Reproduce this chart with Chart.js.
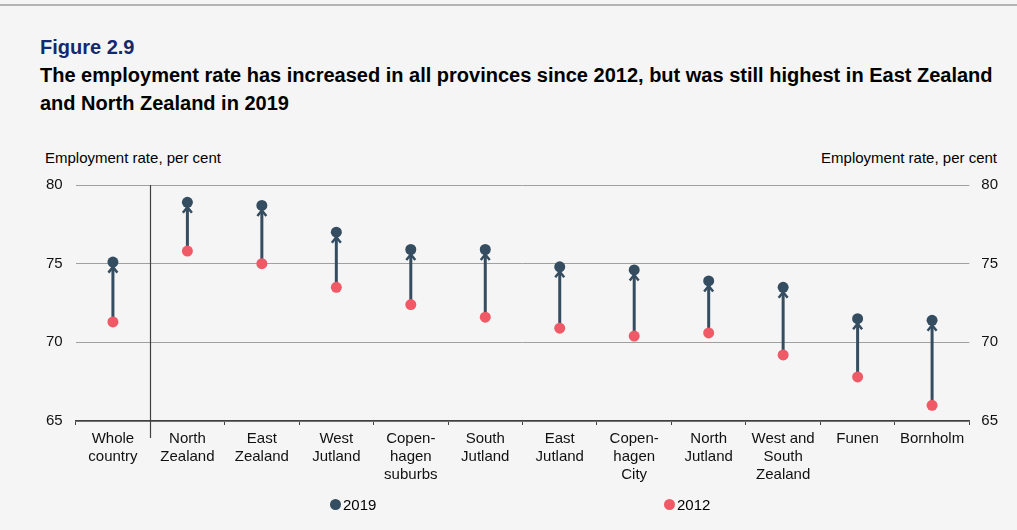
<!DOCTYPE html>
<html>
<head>
<meta charset="utf-8">
<script src="https://cdn.jsdelivr.net/npm/chart.js@4/dist/chart.umd.min.js"></script>
<style>
  html, body { margin: 0; padding: 0; background: #f5f5f5; }
  body { width: 1017px; height: 530px; position: relative; overflow: hidden;
         font-family: "Liberation Sans", Arial, sans-serif; color: #000; }
  #topline { position: absolute; left: 0; top: 4px; width: 1017px; height: 2px; background: #b4b4b4; }
  #fig { position: absolute; left: 40px; top: 36px; font-size: 20px; font-weight: bold; color: #14286e; }
  #title { position: absolute; left: 40px; top: 61px; width: 977px; font-size: 20px; font-weight: bold; line-height: 28px; white-space: nowrap; }
  .axtitle { position: absolute; top: 149px; font-size: 15px; }
  #axl { left: 45px; }
  #axr { right: 20px; }
  canvas { position: absolute; left: 0; top: 0; }
  .leg { position: absolute; top: 496px; font-size: 15px; display: flex; align-items: center; }
  .leg i { display: inline-block; width: 11px; height: 11px; border-radius: 50%; margin-right: 2px; }
</style>
</head>
<body>
<div id="topline"></div>
<div id="fig">Figure 2.9</div>
<div id="title">The employment rate has increased in all provinces since 2012, but was still highest in East Zealand<br>and North Zealand in 2019</div>
<div class="axtitle" id="axl">Employment rate, per cent</div>
<div class="axtitle" id="axr">Employment rate, per cent</div>
<canvas id="c" width="1017" height="530"></canvas>
<div class="leg" style="left:330px"><i style="background:#354d60"></i>2019</div>
<div class="leg" style="left:664px"><i style="background:#ef5a66"></i>2012</div>
<script>
// Provinces, with the national total first
const regions = [
  ["Whole", "country"], ["North", "Zealand"], ["East", "Zealand"], ["West", "Jutland"],
  ["Copen-", "hagen", "suburbs"], ["South", "Jutland"], ["East", "Jutland"],
  ["Copen-", "hagen", "City"], ["North", "Jutland"], ["West and", "South", "Zealand"],
  ["Funen"], ["Bornholm"]
];
// Employment rate, per cent
const rate2019 = [75.1, 78.9, 78.7, 77.0, 75.9, 75.9, 74.8, 74.6, 73.9, 73.5, 71.5, 71.4];
const rate2012 = [71.3, 75.8, 75.0, 73.5, 72.4, 71.6, 70.9, 70.4, 70.6, 69.2, 67.8, 66.0];
const yTicks = [65, 70, 75, 80];

const DARK = '#354d60';
const RED = '#ef5a66';

// Arrow from the 2012 value up to the 2019 value for each region
const arrows = {
  id: 'arrows',
  beforeDatasetsDraw(chart) {
    const { ctx, scales: { x, y } } = chart;
    ctx.save();
    ctx.strokeStyle = DARK;
    ctx.lineCap = 'butt';
    regions.forEach((_, i) => {
      const px = x.getPixelForValue(i);
      const from = y.getPixelForValue(rate2012[i]);
      const to = y.getPixelForValue(rate2019[i]);
      const tip = to + 5;
      ctx.lineWidth = 3;
      ctx.beginPath();
      ctx.moveTo(px, from);
      ctx.lineTo(px, tip);
      ctx.stroke();
      ctx.lineWidth = 2.5;
      ctx.beginPath();
      ctx.moveTo(px - 4.5, tip + 5.5);
      ctx.lineTo(px, tip);
      ctx.lineTo(px + 4.5, tip + 5.5);
      ctx.stroke();
    });
    ctx.restore();
  }
};

// Divider between the national total and the provinces
const divider = {
  id: 'divider',
  afterDraw(chart) {
    const { ctx, chartArea, scales: { x } } = chart;
    const px = Math.round((x.getPixelForValue(0) + x.getPixelForValue(1)) / 2) + 0.5;
    ctx.save();
    ctx.strokeStyle = '#404040';
    ctx.lineWidth = 1.2;
    ctx.beginPath();
    ctx.moveTo(px, chartArea.top);
    ctx.lineTo(px, chartArea.bottom + 17);
    ctx.stroke();
    ctx.restore();
  }
};

const tickFont = { family: '"Liberation Sans", Arial, sans-serif', size: 15 };
const yAxis = (pos, pad) => ({
  type: 'linear',
  position: pos,
  min: 65, max: 80,
  afterBuildTicks(s) { s.ticks = yTicks.map(v => ({ value: v })); },
  ticks: { font: tickFont, color: '#111', padding: pad },
  grid: { drawTicks: false, drawOnChartArea: pos === 'left', color: '#a0a0a0', lineWidth: 1 },
  border: { display: false }
});

new Chart(document.getElementById('c'), {
  type: 'line',
  data: {
    labels: regions,
    datasets: [
      { label: '2019', data: rate2019, showLine: false, pointRadius: 5.5, pointHoverRadius: 5.5,
        pointBackgroundColor: DARK, pointBorderWidth: 0, borderColor: DARK },
      { label: '2012', data: rate2012, showLine: false, pointRadius: 5.5, pointHoverRadius: 5.5,
        pointBackgroundColor: RED, pointBorderWidth: 0, borderColor: RED }
    ]
  },
  options: {
    responsive: false,
    animation: false,
    events: [],
    layout: { padding: { left: 33, right: 7, top: 185, bottom: 41 } },
    plugins: { legend: { display: false }, tooltip: { enabled: false } },
    scales: {
      x: {
        offset: true,
        grid: { offset: true, drawOnChartArea: false, drawTicks: true, tickLength: 4, color: '#404040' },
        border: { color: '#404040', width: 1.5 },
        ticks: { font: { ...tickFont, lineHeight: 1.2 }, color: '#111', maxRotation: 0, autoSkip: false, padding: 5 }
      },
      y: yAxis('left', 13),
      y2: yAxis('right', 12)
    }
  },
  plugins: [arrows, divider]
});
</script>
</body>
</html>
